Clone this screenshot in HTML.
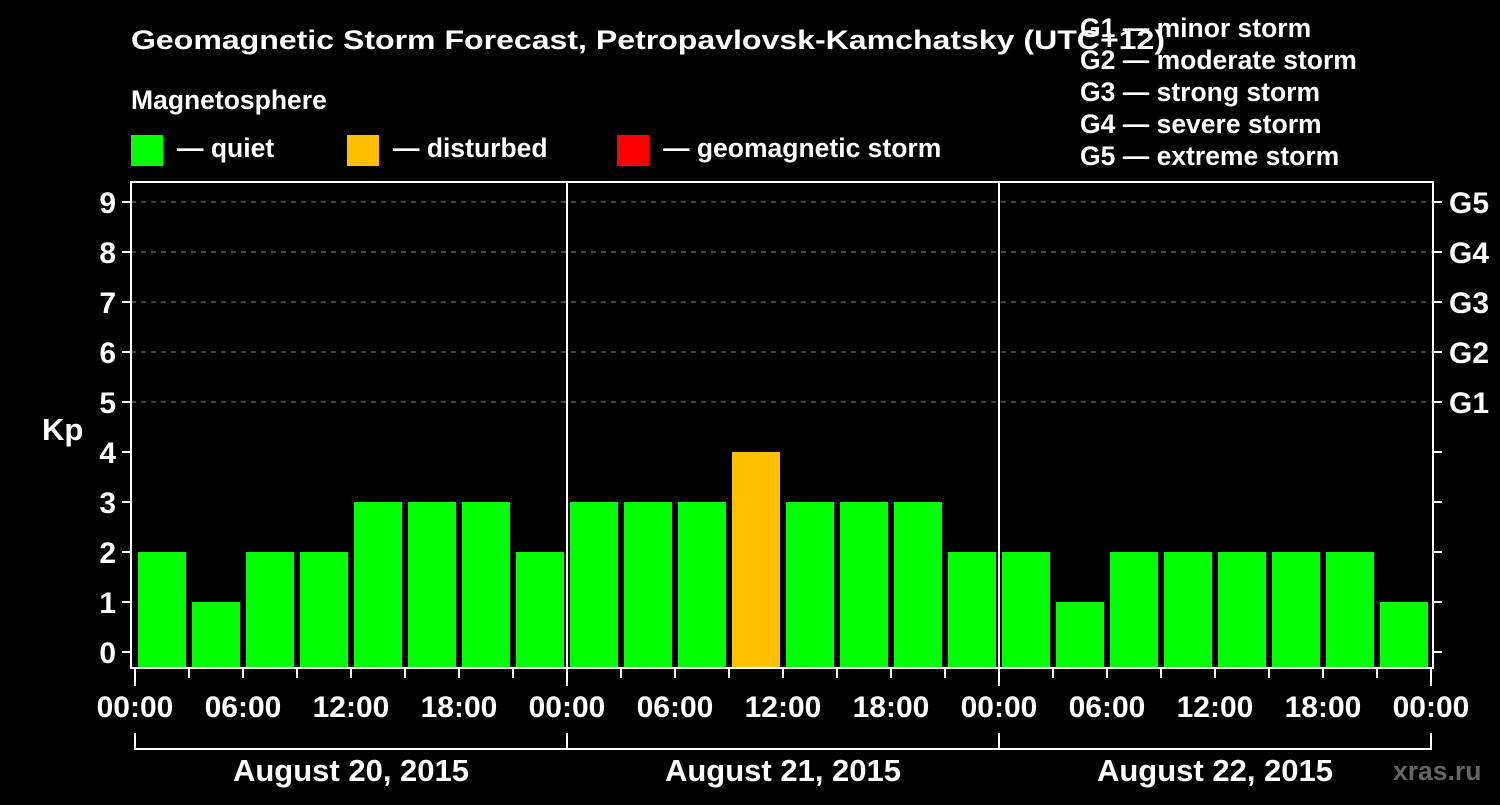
<!DOCTYPE html>
<html><head><meta charset="utf-8"><style>
body{margin:0;background:#000;width:1500px;height:800px;overflow:hidden}
svg text{font-family:"Liberation Sans",sans-serif;font-weight:bold;fill:#fff}
</style></head><body>
<svg id="c" width="1500" height="800" xmlns="http://www.w3.org/2000/svg">
<text x="131" y="49" font-size="27" textLength="1034" lengthAdjust="spacingAndGlyphs">Geomagnetic Storm Forecast, Petropavlovsk-Kamchatsky (UTC+12)</text>
<text x="131" y="109" font-size="26.5">Magnetosphere</text>
<rect x="131" y="135" width="32" height="31" fill="#00ff00"/>
<text x="177" y="157" font-size="26.5">— quiet</text>
<rect x="347" y="135" width="32" height="31" fill="#ffc000"/>
<text x="393" y="157" font-size="26.5">— disturbed</text>
<rect x="617" y="135" width="32" height="31" fill="#ff0000"/>
<text x="663" y="157" font-size="26.5">— geomagnetic storm</text>
<g font-size="26.5">
<text x="1080" y="37">G1 — minor storm</text>
<text x="1080" y="69">G2 — moderate storm</text>
<text x="1080" y="101">G3 — strong storm</text>
<text x="1080" y="133">G4 — severe storm</text>
<text x="1080" y="165">G5 — extreme storm</text>
</g>
<text x="42" y="440" font-size="31">Kp</text>
<text x="1393" y="780" font-size="26.5" style="fill:#666">xras.ru</text>
<g id="g"></g>
</svg>
<script>
const kpValues=[2,1,2,2,3,3,3,2, 3,3,3,4,3,3,3,2, 2,1,2,2,2,2,2,1];
const dayLabels=["August 20, 2015","August 21, 2015","August 22, 2015"];
const hourLabels=["00:00","06:00","12:00","18:00"];
const gLabels=["G1","G2","G3","G4","G5"];
const NS="http://www.w3.org/2000/svg";
const g=document.getElementById('g');
const X0=135,PXH=18,L=131,R=1433,T=182,B=668;
const xs=h=>X0+h*PXH, ys=v=>652-v*50;
function mk(t,a){const e=document.createElementNS(NS,t);for(const k in a)e.setAttribute(k,a[k]);g.appendChild(e);return e;}
for(let v=5;v<=9;v++){const e=mk('line',{x1:L,x2:R,y1:ys(v),y2:ys(v),stroke:'#888','stroke-dasharray':'5,5','stroke-width':1});

}
kpValues.forEach((v,i)=>{const c=v>=5?'#ff0000':v>=4?'#ffc000':'#00ff00';
const e=mk('rect',{x:xs(i*3)+3,y:ys(v),width:48,height:667-ys(v),fill:c});

});
const f=mk('rect',{x:L,y:T,width:R-L,height:B-T,fill:'none',stroke:'#fff','stroke-width':2});


for(let d=1;d<dayLabels.length;d++){const e=mk('line',{x1:xs(d*24),x2:xs(d*24),y1:T,y2:B,stroke:'#fff','stroke-width':2});

}
for(let v=0;v<=9;v++){
mk('line',{x1:122,x2:L,y1:ys(v),y2:ys(v),stroke:'#fff','stroke-width':2});
mk('line',{x1:R,x2:1442,y1:ys(v),y2:ys(v),stroke:'#fff','stroke-width':2});
const t=mk('text',{x:116,y:ys(v)+11,'font-size':30,'text-anchor':'end'});t.textContent=v;

}
gLabels.forEach((s,i)=>{const t=mk('text',{x:1449,y:ys(5+i)+11,'font-size':30});t.textContent=s;

});
for(let h=0;h<=72;h+=3){const big=h%24==0;
mk('line',{x1:xs(h),x2:xs(h),y1:B,y2:big?686:678,stroke:'#fff','stroke-width':2});
if(h%6==0){const t=mk('text',{x:xs(h),y:717,'font-size':30,'text-anchor':'middle'});t.textContent=hourLabels[(h%24)/6];

}}
mk('line',{x1:xs(0),x2:xs(72),y1:749,y2:749,stroke:'#fff','stroke-width':2});
dayLabels.forEach((s,d)=>{
mk('line',{x1:xs(d*24),x2:xs(d*24),y1:733,y2:750,stroke:'#fff','stroke-width':2});
const t=mk('text',{x:xs(d*24+12),y:781,'font-size':31,'text-anchor':'middle'});t.textContent=s;

});
mk('line',{x1:xs(72),x2:xs(72),y1:733,y2:750,stroke:'#fff','stroke-width':2});
</script>
</body></html>
